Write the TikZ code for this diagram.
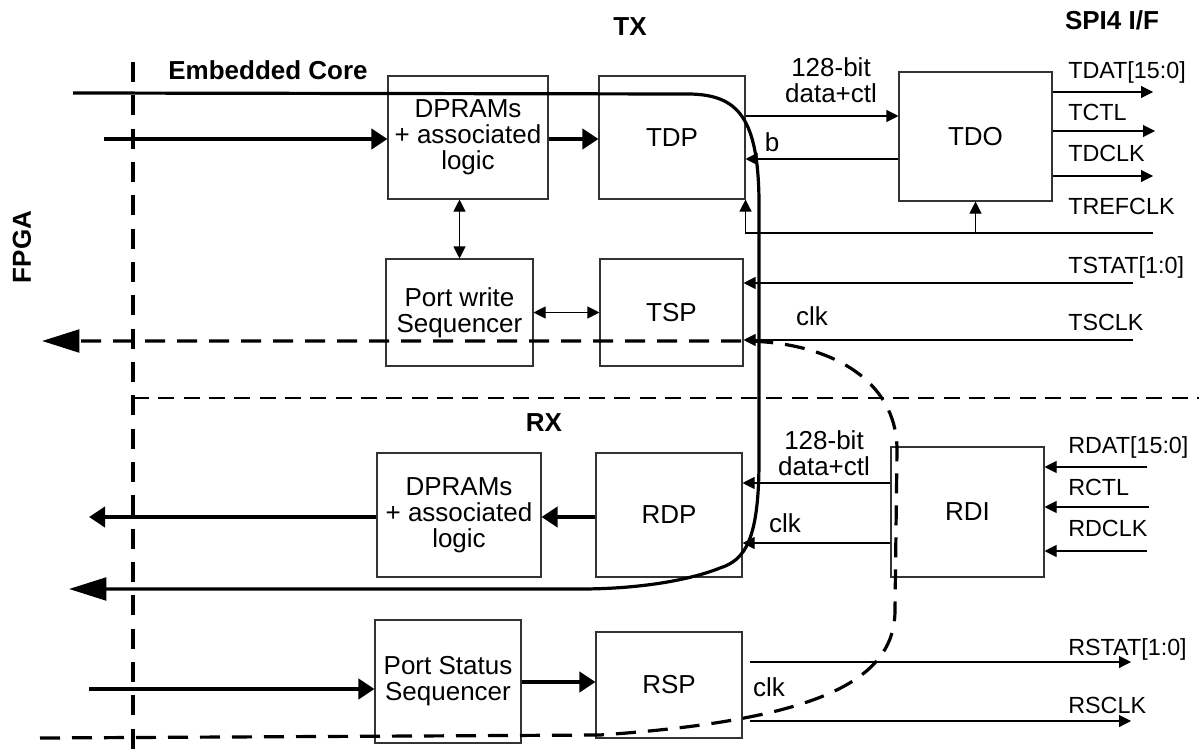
\documentclass[tikz,border=0pt]{standalone}
\usepackage{fontspec}
\setsansfont{Liberation Sans}
\usetikzlibrary{arrows.meta,positioning,calc}

\begin{document}
\begin{tikzpicture}[
  x=0.75pt, y=-0.75pt,
  font=\sffamily\fontsize{19.5}{19.5}\selectfont,
  block/.style={draw=black!80, line width=0.8pt, align=center, inner sep=0pt},
  lab/.style={align=center, inner sep=0pt},
  pinlab/.style={anchor=west, inner sep=0pt, font=\sffamily\fontsize{17.5}{17.5}\selectfont},
  head/.style={inner sep=0pt, font=\sffamily\bfseries\fontsize{19.5}{19.5}\selectfont},
  sig/.style={-{Triangle[length=9pt,width=9pt]}, line width=0.8pt},
  bisig/.style={{Triangle[length=9pt,width=9pt]}-{Triangle[length=9pt,width=9pt]}, line width=0.8pt},
  bus/.style={-{Triangle[length=12pt,width=15pt]}, line width=3pt},
  route/.style={-{Triangle[length=28pt,width=17pt]}, line width=2.4pt},
  dashroute/.style={route, dash pattern=on 15pt off 9pt},
  border/.style={line width=3pt, dash pattern=on 15pt off 10pt},
  split/.style={line width=0.8pt, dash pattern=on 12pt off 7pt},
]
\useasboundingbox (0,0) rectangle (1199,749);

%% ── Headings ─────────────────────────────────────────────────────────────────
\node[head] (tx)   at (630,27)  {TX};
\node[head] (spi)  at (1112,20) {SPI4 I/F};
\node[head] (core) at (268,70)  {Embedded Core};
\node[head] (rx)   at (544,423) {RX};
\node[head, rotate=90] (fpga) at (22,247) {FPGA};

%% ── Boundaries ───────────────────────────────────────────────────────────────
\coordinate (fpgatop) at (133,62);
\coordinate (fpgabot) at (133,749);
\coordinate (rxleft)  at (133,398);
\coordinate (rxright) at (1199,398);
\draw[border] (fpgatop) -- (fpgabot);
\draw[split]  (rxleft) -- (rxright);

%% ── TX blocks ────────────────────────────────────────────────────────────────
\node[block, minimum width=120pt,    minimum height=92.25pt] (dpramT) at (468,137.5)   {DPRAMs\\+ associated\\logic};
\node[block, minimum width=109.5pt,  minimum height=92.25pt] (tdp)    at (672,137.5)   {TDP};
\node[block, minimum width=114.75pt, minimum height=96.75pt] (tdo)    at (975.5,136.5) {TDO};
\node[block, minimum width=110.25pt, minimum height=80.25pt] (pws)    at (459.5,312.5) {Port write\\Sequencer};
\node[block, minimum width=107.25pt, minimum height=80.25pt] (tsp)    at (671.5,312.5) {TSP};

%% ── RX blocks ────────────────────────────────────────────────────────────────
\node[block, minimum width=123pt,    minimum height=93pt]    (dpramR) at (459,515)     {DPRAMs\\+ associated\\logic};
\node[block, minimum width=109.5pt,  minimum height=93pt]    (rdp)    at (669,515)     {RDP};
\node[block, minimum width=114.75pt, minimum height=97.5pt]  (rdi)    at (967.5,512)   {RDI};
\node[block, minimum width=109.5pt,  minimum height=92.25pt] (pss)    at (448,681.5)   {Port Status\\Sequencer};
\node[block, minimum width=109.5pt,  minimum height=79.5pt]  (rsp)    at (669,685)     {RSP};

%% ── Inner labels ─────────────────────────────────────────────────────────────
\node[lab] (bitT) at (831,80)  {128-bit\\data+ctl};
\node[lab] (bT)   at (772,142) {b};
\node[lab] (clkT) at (812,316) {clk};
\node[lab] (bitR) at (824,453) {128-bit\\data+ctl};
\node[lab] (clkR) at (785,523) {clk};
\node[lab] (clkS) at (769,687) {clk};

%% ── SPI4 pins ────────────────────────────────────────────────────────────────
\node[pinlab] (tdatl)    at (1068,72)  {TDAT[15:0]};
\node[pinlab] (tctll)    at (1068,112) {TCTL};
\node[pinlab] (tdclkl)   at (1068,153) {TDCLK};
\node[pinlab] (trefclkl) at (1068,206) {TREFCLK};
\node[pinlab] (tstatl)   at (1068,267) {TSTAT[1:0]};
\node[pinlab] (tsclkl)   at (1068,322) {TSCLK};
\node[pinlab] (rdatl)    at (1068,447) {RDAT[15:0]};
\node[pinlab] (rctll)    at (1068,487) {RCTL};
\node[pinlab] (rdclkl)   at (1068,528) {RDCLK};
\node[pinlab] (rstatl)   at (1068,649) {RSTAT[1:0]};
\node[pinlab] (rsclkl)   at (1068,705) {RSCLK};

\coordinate (tdat)    at (1153,92);
\coordinate (tctl)    at (1155,131);
\coordinate (tdclk)   at (1153,176);
\coordinate (trefclk) at (1153,233);
\coordinate (tstat)   at (1133,283);
\coordinate (tsclk)   at (1133,340);
\coordinate (rdat)    at (1147,467);
\coordinate (rctl)    at (1149,507);
\coordinate (rdclk)   at (1147,551);
\coordinate (rstat)   at (1131,662);
\coordinate (rsclk)   at (1131,721);

%% ── TX signals ───────────────────────────────────────────────────────────────
\draw[sig] (tdp.east |- 0,116) -- (tdo.west |- 0,116);
\draw[sig] (tdo.west |- 0,159) -- (tdp.east |- 0,159);
\draw[sig] (tdo.east |- tdat)  -- (tdat);
\draw[sig] (tdo.east |- tctl)  -- (tctl);
\draw[sig] (tdo.east |- tdclk) -- (tdclk);
\draw[sig] (trefclk) -| (tdp.south east);
\draw[sig] (tdo.south |- trefclk) -- (tdo.south);
\draw[sig] (tstat) -- (tsp.east |- tstat);
\draw[sig] (tsclk) -- (tsp.east |- tsclk);
\draw[bisig] (dpramT.south -| pws.north) -- (pws.north);
\draw[bisig] (pws.east) -- (tsp.west);

\coordinate (coreinT) at (104,139);
\draw[bus] (coreinT) -- (coreinT -| dpramT.west);
\draw[bus] (dpramT.east |- coreinT) -- (tdp.west |- coreinT);

%% ── RX signals ───────────────────────────────────────────────────────────────
\draw[sig] (rdi.west |- 0,483) -- (rdp.east |- 0,483);
\draw[sig] (rdi.west |- 0,543) -- (rdp.east |- 0,543);
\draw[sig] (rdat)  -- (rdi.east |- rdat);
\draw[sig] (rctl)  -- (rdi.east |- rctl);
\draw[sig] (rdclk) -- (rdi.east |- rdclk);
\draw[sig] (rsp.east |- rstat) ++(7,0) -- (rstat);
\draw[sig] (rsp.east |- rsclk) ++(7,0) -- (rsclk);

\coordinate (coreoutR) at (89,517);
\coordinate (coreinS)  at (89,689);
\draw[bus] (rdp.west |- coreoutR) -- (dpramR.east |- coreoutR);
\draw[bus] (dpramR.west |- coreoutR) -- (coreoutR);
\draw[bus] (coreinS) -- (coreinS -| pss.west);
\draw[bus] (pss.east |- 0,682) -- (rsp.west |- 0,682);

%% ── Loop-back paths ──────────────────────────────────────────────────────────
\coordinate (srcT) at (73,93);
\coordinate (dstT) at (69,589);
\draw[route] (srcT) -- (690,94) .. controls (738,95) and (758,118) .. (759,200)
  -- (759,460) .. controls (759,540) and (745,560) .. (720,568)
  .. controls (690,580) and (640,589) .. (580,589) -- (dstT);

\coordinate (srcS) at (40,738);
\coordinate (dstS) at (42,341);
\draw[dashroute] (srcS) -- (600,735) .. controls (820,720) and (895,680) .. (895,610)
  -- (897,450) .. controls (897,380) and (830,342) .. (745,341) -- (dstS);

\end{tikzpicture}
\end{document}
